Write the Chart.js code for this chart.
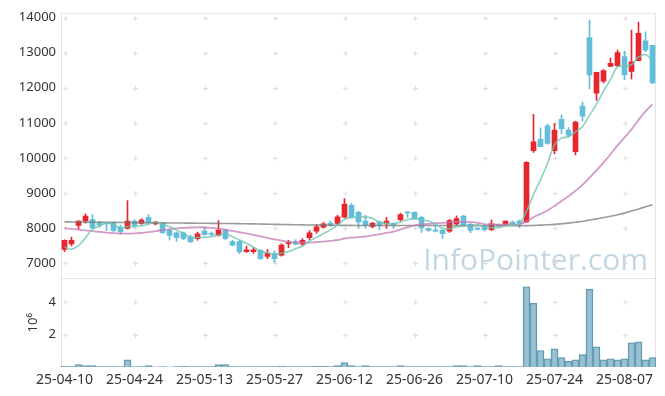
<!DOCTYPE html>
<html>
<head>
<meta charset="utf-8">
<script src="https://cdn.jsdelivr.net/npm/chart.js@4.4.1/dist/chart.umd.min.js"></script>
<style>
  html, body { margin: 0; padding: 0; background: #fff; }
</style>
</head>
<body>
<canvas id="stock" width="665" height="396"></canvas>
<script>
// trading days
var dates = ['25-04-10','25-04-11','25-04-14','25-04-15','25-04-16','25-04-17','25-04-18','25-04-21','25-04-22','25-04-23',
  '25-04-24','25-04-25','25-04-28','25-04-29','25-04-30','25-05-02','25-05-07','25-05-08','25-05-09','25-05-12',
  '25-05-13','25-05-14','25-05-15','25-05-16','25-05-19','25-05-20','25-05-21','25-05-22','25-05-23','25-05-26',
  '25-05-27','25-05-28','25-05-29','25-05-30','25-06-02','25-06-04','25-06-05','25-06-09','25-06-10','25-06-11',
  '25-06-12','25-06-13','25-06-16','25-06-17','25-06-18','25-06-19','25-06-20','25-06-23','25-06-24','25-06-25',
  '25-06-26','25-06-27','25-06-30','25-07-01','25-07-02','25-07-03','25-07-04','25-07-07','25-07-08','25-07-09',
  '25-07-10','25-07-11','25-07-14','25-07-15','25-07-16','25-07-17','25-07-18','25-07-21','25-07-22','25-07-23',
  '25-07-24','25-07-25','25-07-28','25-07-29','25-07-30','25-07-31','25-08-01','25-08-04','25-08-05','25-08-06',
  '25-08-07','25-08-08','25-08-11','25-08-12','25-08-13'];

var opens = [7380,7540,8068,8200,8238,8142,8130,8125,8020,7983,
  8190,8125,8303,8113,8125,7927,7859,7859,7745,7689,
  7907,7842,7785,7927,7604,7604,7320,7320,7360,7180,
  7275,7218,7548,7604,7530,7717,7907,8020,8133,8125,
  8303,8643,8445,8190,8030,8170,8115,8125,8230,8440,
  8445,8303,7983,7927,7927,7907,8115,8332,8097,7992,
  8048,7945,8097,8087,8162,8190,8170,10203,10530,10911,
  10203,11101,10789,10176,11478,13433,11846,12187,12611,12631,
  12895,12470,12773,13340,13215];
var highs = [7660,7737,8200,8400,8380,8190,8162,8170,8077,8777,
  8235,8267,8380,8180,8140,7960,7880,7880,7790,7880,
  8020,7880,8210,7960,7640,7643,7482,7440,7380,7388,
  7340,7540,7643,7660,7690,7920,8090,8150,8190,8360,
  8834,8700,8470,8360,8150,8200,8303,8140,8420,8460,
  8460,8330,8000,8060,7960,8240,8340,8360,8130,8010,
  8090,8230,8110,8200,8200,8220,9890,11243,10855,10960,
  10976,11231,10860,11044,11590,13934,12441,12520,12847,13074,
  13050,13651,13878,13600,13215];
var lows = [7320,7480,7955,8133,7983,8020,7927,7887,7813,7970,
  8020,8097,8125,8080,7840,7652,7612,7660,7580,7650,
  7790,7770,7760,7660,7480,7263,7300,7270,7100,7122,
  7010,7190,7433,7510,7500,7660,7840,7990,8040,8100,
  8280,8290,7983,7983,8000,7950,7983,7983,8200,8300,
  8240,7870,7900,7880,7700,7870,8080,8030,7860,7940,
  7910,7920,8040,8070,8100,8000,8150,10155,10316,10380,
  10110,10693,10600,10082,11053,11968,11637,12140,12600,12600,
  12230,12250,12773,13030,12120];
var closes = [7643,7643,8190,8332,8000,8077,8110,7927,7887,8190,
  8068,8218,8142,8170,7859,7785,7717,7689,7595,7830,
  7802,7813,7935,7689,7502,7312,7368,7368,7122,7275,
  7122,7510,7577,7530,7643,7859,8030,8115,8068,8313,
  8680,8303,8170,8077,8133,8077,8190,8068,8380,8425,
  8255,8000,7927,7907,7830,8210,8267,8068,7927,7955,
  7945,8115,8058,8190,8113,8125,9870,10458,10316,10410,
  10789,10834,10647,11024,11186,12365,12441,12489,12696,13008,
  12365,12745,13556,13074,12138];

// moving averages
var ma5 = [7450,7390,7490,7717,7962,8048,8142,8089,8000,8038,
  8036,8058,8101,8158,8091,8035,7935,7844,7729,7723,
  7727,7746,7795,7814,7748,7650,7561,7448,7334,7289,
  7251,7279,7321,7403,7476,7624,7728,7835,7943,8077,
  8241,8296,8307,8309,8273,8152,8129,8109,8170,8228,
  8264,8226,8197,8103,7984,7975,8028,8056,8060,8085,
  8032,8002,8000,8053,8084,8120,8471,8951,9376,9836,
  10369,10561,10599,10741,10896,11211,11533,11901,12235,12600,
  12600,12661,12874,12950,12776];
var ma20 = [7990,7970,7950,7930,7905,7885,7865,7850,7840,7835,
  7840,7855,7875,7905,7935,7960,7985,8000,8010,8015,
  8015,8000,7975,7945,7910,7875,7840,7800,7758,7712,
  7670,7635,7605,7585,7578,7580,7590,7605,7628,7652,
  7695,7720,7735,7752,7782,7818,7858,7893,7956,8013,
  8070,8095,8112,8131,8140,8158,8170,8168,8161,8143,
  8106,8097,8091,8097,8096,8098,8182,8301,8398,8497,
  8624,8766,8902,9058,9226,9433,9642,9863,10102,10354,
  10575,10807,11082,11326,11527];
var ma60 = [8170,8168,8166,8164,8162,8160,8158,8156,8154,8152,
  8150,8148,8146,8144,8142,8140,8138,8136,8134,8132,
  8130,8128,8126,8124,8122,8120,8116,8112,8108,8104,
  8100,8096,8092,8088,8084,8080,8078,8076,8074,8072,
  8070,8069,8068,8067,8066,8065,8065,8065,8065,8065,
  8065,8065,8065,8065,8065,8065,8064,8063,8062,8061,
  8060,8060,8060,8060,8060,8060,8062,8068,8076,8086,
  8098,8115,8135,8160,8188,8222,8256,8292,8330,8372,
  8420,8480,8540,8600,8660];

// volume, millions of shares
var volumes = [0.06,0.02,0.15,0.08,0.08,0.02,0.02,0.02,0.02,0.45,
  0.02,0.02,0.08,0.005,0.02,0.005,0.02,0.06,0.02,0.02,
  0.02,0.02,0.15,0.15,0.02,0.02,0.02,0.02,0.02,0.02,
  0.02,0.06,0.02,0.02,0.02,0.02,0.06,0.06,0.02,0.08,
  0.27,0.09,0.02,0.09,0.02,0.02,0.02,0.02,0.09,0.02,
  0.02,0.02,0.02,0.02,0.02,0.02,0.09,0.09,0.02,0.09,
  0.02,0.02,0.09,0.02,0.02,0.02,4.95,3.95,1.02,0.51,
  1.13,0.58,0.35,0.45,0.76,4.81,1.25,0.45,0.51,0.45,
  0.51,1.5,1.56,0.45,0.58];

var priceTicks = [7000, 8000, 9000, 10000, 11000, 12000, 13000, 14000];
var volTicks = [2, 4];

var UP = '#e8262e', DOWN = '#62bedb';
var candleColors = closes.map(function(c, i) { return c >= opens[i] ? UP : DOWN; });

Chart.defaults.font.family = '"Noto Sans", "DejaVu Sans", sans-serif';
Chart.defaults.color = '#333';

var panelDecor = {
  id: 'panelDecor',
  beforeDatasetsDraw: function(chart) {
    var ctx = chart.ctx, a = chart.chartArea;
    var x = chart.scales.x, y = chart.scales.y, yv = chart.scales.yv;
    ctx.save();
    // watermark
    ctx.fillStyle = 'rgba(184,208,222,0.85)';
    ctx.font = '30px "Open Sans", "Noto Sans", sans-serif';
    ctx.textAlign = 'right';
    ctx.textBaseline = 'alphabetic';
    ctx.fillText('InfoPointer.com', a.right - 8, y.bottom - 8);
    // grid crosses
    ctx.strokeStyle = '#dedede';
    ctx.lineWidth = 1;
    function cross(px, py) {
      ctx.beginPath();
      ctx.moveTo(px - 2.5, py); ctx.lineTo(px + 2.5, py);
      ctx.moveTo(px, py - 2.5); ctx.lineTo(px, py + 2.5);
      ctx.stroke();
    }
    for (var i = 0; i < dates.length; i += 10) {
      var px = Math.round(x.getPixelForValue(i)) + 0.5;
      priceTicks.forEach(function(v) { cross(px, Math.round(y.getPixelForValue(v)) + 0.5); });
      volTicks.forEach(function(v) { cross(px, Math.round(yv.getPixelForValue(v)) + 0.5); });
    }
    // panel frames
    ctx.strokeStyle = '#e3e3e3';
    ctx.beginPath();
    ctx.moveTo(a.left + 0.5, a.bottom); ctx.lineTo(a.left + 0.5, a.top + 0.5);
    ctx.lineTo(a.right - 0.5, a.top + 0.5); ctx.lineTo(a.right - 0.5, a.bottom);
    ctx.moveTo(a.left, Math.round(y.bottom) + 0.5); ctx.lineTo(a.right, Math.round(y.bottom) + 0.5);
    ctx.stroke();
    // volume exponent label
    ctx.fillStyle = '#333';
    ctx.font = '13px "Noto Sans", sans-serif';
    ctx.translate(33, (yv.top + yv.bottom) / 2);
    ctx.rotate(-Math.PI / 2);
    ctx.textAlign = 'center';
    ctx.textBaseline = 'middle';
    ctx.fillText('10\u2076', 0, 0);
    ctx.restore();
  }
};

new Chart(document.getElementById('stock').getContext('2d'), {
  type: 'bar',
  data: {
    labels: dates,
    datasets: [
      { type: 'line', label: 'MA5', data: ma5, yAxisID: 'y', borderColor: 'rgba(110,196,178,0.8)',
        borderWidth: 1.6, pointRadius: 0, tension: 0.4, order: 0 },
      { type: 'line', label: 'MA20', data: ma20, yAxisID: 'y', borderColor: 'rgba(196,120,180,0.75)',
        borderWidth: 1.8, pointRadius: 0, tension: 0.4, order: 0 },
      { type: 'line', label: 'MA60', data: ma60, yAxisID: 'y', borderColor: 'rgba(120,120,120,0.75)',
        borderWidth: 1.6, pointRadius: 0, tension: 0.4, order: 0 },
      { label: 'wick', data: lows.map(function(l, i) { return [l, highs[i]]; }), yAxisID: 'y',
        backgroundColor: candleColors, barThickness: 1, grouped: false, order: 1 },
      { label: 'body', data: opens.map(function(o, i) { return [o, closes[i]]; }), yAxisID: 'y',
        backgroundColor: candleColors, barThickness: 5, minBarLength: 1, grouped: false, order: 1 },
      { label: 'volume', data: volumes, yAxisID: 'yv', backgroundColor: 'rgba(125,175,198,0.78)',
        borderColor: '#5f97b0', borderWidth: 1, barPercentage: 1, categoryPercentage: 1,
        grouped: false, order: 2 }
    ]
  },
  options: {
    responsive: false,
    animation: false,
    layout: { padding: { top: 10, right: 9, left: 0, bottom: 0 } },
    plugins: { legend: { display: false }, tooltip: { enabled: false } },
    scales: {
      x: {
        type: 'category', offset: true,
        grid: { display: false, drawTicks: false }, border: { display: false },
        ticks: {
          autoSkip: false, maxRotation: 0, padding: 5, font: { size: 14 },
          callback: function(v, i) { return i % 10 === 0 ? dates[i] : ''; }
        },
        afterFit: function(s) { s.height = 29; }
      },
      yv: {
        type: 'linear', position: 'left', stack: 'panels', stackWeight: 1,
        min: 0, max: 5.47,
        grid: { display: false, drawTicks: false }, border: { display: false },
        ticks: { padding: 5, font: { size: 13 }, callback: function(v) { return String(v); } },
        afterBuildTicks: function(s) { s.ticks = volTicks.map(function(v) { return { value: v }; }); },
        afterFit: function(s) { s.width = 61; }
      },
      y: {
        type: 'linear', position: 'left', stack: 'panels', stackWeight: 3,
        min: 6554, max: 14142,
        grid: { display: false, drawTicks: false }, border: { display: false },
        ticks: { padding: 5, font: { size: 13 }, callback: function(v) { return String(v); } },
        afterBuildTicks: function(s) { s.ticks = priceTicks.map(function(v) { return { value: v }; }); },
        afterFit: function(s) { s.width = 61; }
      }
    }
  },
  plugins: [panelDecor]
});
</script>
</body>
</html>
